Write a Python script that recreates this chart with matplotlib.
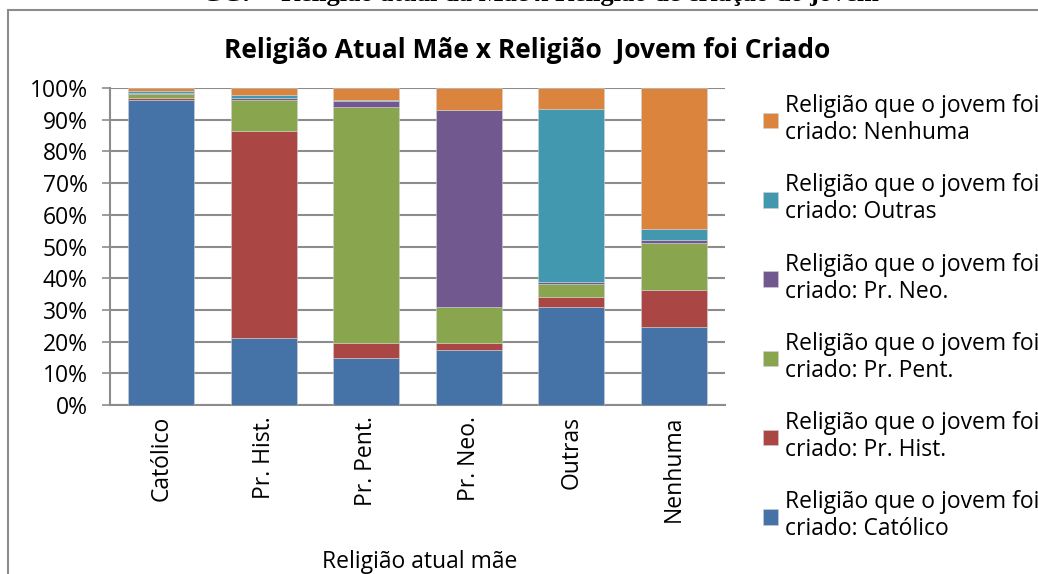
import numpy as np
import matplotlib.pyplot as plt
from matplotlib.patches import Rectangle

categories = ["Católico", "Pr. Hist.", "Pr. Pent.", "Pr. Neo.", "Outras", "Nenhuma"]
series_names = ["Católico", "Pr. Hist.", "Pr. Pent.", "Pr. Neo.", "Outras", "Nenhuma"]

catolico = [96.3, 21.1, 14.7, 17.4, 30.9, 24.7]
pr_hist = [0.5, 65.2, 4.8, 2.3, 3.2, 11.6]
pr_pent = [1.3, 10.0, 74.6, 11.2, 4.0, 14.7]
pr_neo = [0.3, 0.5, 1.7, 62.2, 0.8, 1.1]
outras = [0.6, 1.1, 0.3, 0.0, 54.5, 3.5]
nenhuma = [1.0, 2.1, 3.9, 6.9, 6.6, 44.4]

colors = ["#4572A7", "#AA4643", "#89A54E", "#71588F", "#4198AF", "#DB843D"]

plt.rcParams["font.family"] = ["Open Sans", "DejaVu Sans"]
FS = 16.5

fig = plt.figure(figsize=(10.38, 5.74), dpi=100)
ax = fig.add_axes([110 / 1038, 1 - 405 / 574, 615 / 1038, 317 / 574])

# outer chart border (cut off at right and bottom in the original)
fig.patches.append(Rectangle((8 / 1038, -0.1), 1.2, 1 - 10 / 574 + 0.1,
                             transform=fig.transFigure, fill=False,
                             edgecolor="#8c8c8c", linewidth=1.5))

# page heading above the chart, only its lower part is visible
fig.text(540 / 1038, 1 - 1.5 / 574, "GC7 – Religião atual da Mãe x Religião de criação do jovem",
         ha="center", va="baseline", fontsize=19, fontweight="bold", family="Liberation Serif")

x = np.arange(len(categories))
bottom = np.zeros(len(categories))
data = [catolico, pr_hist, pr_pent, pr_neo, outras, nenhuma]
for vals, name, col in zip(data, series_names, colors):
    ax.bar(x, vals, 0.64, bottom=bottom, color=col, edgecolor="#d0d0d0",
           linewidth=0.4, label="Religião que o jovem foi\ncriado: " + name, zorder=3)
    bottom += np.array(vals)

ax.set_xlim(-0.5, len(categories) - 0.5)
ax.set_ylim(0, 100)
ax.set_yticks(np.arange(0, 101, 10))
ax.set_yticklabels(["%d%%" % v for v in range(0, 101, 10)], fontsize=FS)
ax.set_xticks(x)
ax.set_xticklabels(categories, rotation=90, fontsize=FS)
ax.tick_params(axis="x", length=0, pad=8)
ax.tick_params(axis="y", length=6, color="#8c8c8c", width=1.2, pad=10)
ax.yaxis.grid(True, color="#8c8c8c", linewidth=1.5, zorder=0)
for s in ["top", "right"]:
    ax.spines[s].set_visible(False)
ax.spines["left"].set_color("#8c8c8c")
ax.spines["left"].set_linewidth(1.5)
ax.spines["bottom"].set_color("#8c8c8c")
ax.spines["bottom"].set_linewidth(1.5)

fig.text(527 / 1038, 1 - 50 / 574, "Religião Atual Mãe x Religião  Jovem foi Criado",
         ha="center", va="center", fontsize=19, fontweight="bold")
fig.text(420 / 1038, 1 - 562 / 574, "Religião atual mãe", ha="center", va="center", fontsize=FS)

handles, labels = ax.get_legend_handles_labels()
leg = fig.legend(handles[::-1], labels[::-1], loc="upper left",
                 bbox_to_anchor=(754 / 1038, 1 - 85 / 574), frameon=False, fontsize=FS,
                 handlelength=0.65, handleheight=0.65, handletextpad=0.3,
                 labelspacing=1.23, borderaxespad=0)
for t in leg.get_texts():
    t.set_linespacing(1.17)

fig.savefig("out.png", dpi=100)
